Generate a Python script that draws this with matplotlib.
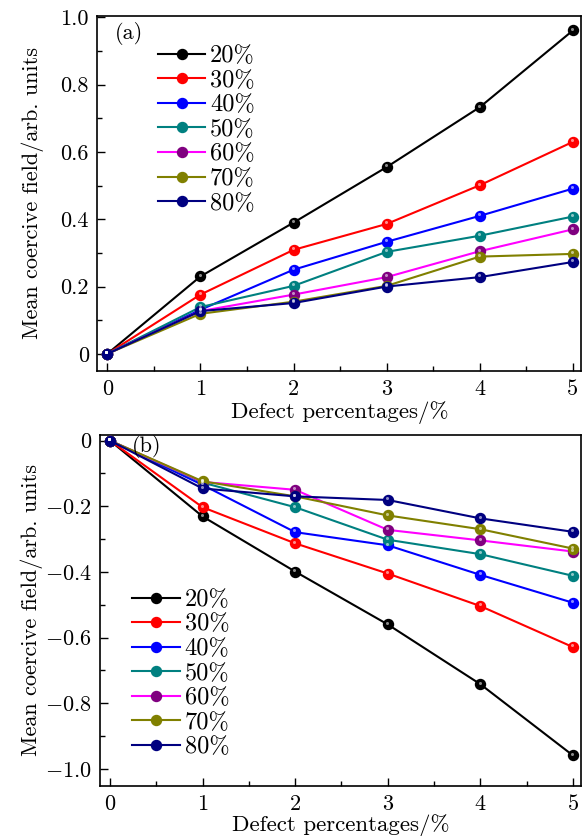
import matplotlib
matplotlib.use("Agg")
import matplotlib.pyplot as plt
from matplotlib.ticker import MultipleLocator
from matplotlib.transforms import ScaledTranslation

plt.rcParams["font.family"] = ["cmr10", "DejaVu Serif"]
plt.rcParams["mathtext.fontset"] = "cm"
plt.rcParams["axes.unicode_minus"] = False

defects = [0, 1, 2, 3, 4, 5]
labels = ["20%", "30%", "40%", "50%", "60%", "70%", "80%"]

pos_20 = [0, 0.230, 0.390, 0.555, 0.733, 0.961]
pos_30 = [0, 0.176, 0.309, 0.386, 0.501, 0.630]
pos_40 = [0, 0.131, 0.250, 0.333, 0.410, 0.491]
pos_50 = [0, 0.139, 0.202, 0.303, 0.351, 0.408]
pos_60 = [0, 0.127, 0.176, 0.228, 0.305, 0.370]
pos_70 = [0, 0.119, 0.155, 0.202, 0.289, 0.297]
pos_80 = [0, 0.127, 0.151, 0.200, 0.228, 0.273]

neg_20 = [0, -0.231, -0.399, -0.560, -0.742, -0.959]
neg_30 = [0, -0.203, -0.313, -0.405, -0.504, -0.629]
neg_40 = [0, -0.135, -0.279, -0.319, -0.409, -0.494]
neg_50 = [0, -0.128, -0.203, -0.302, -0.346, -0.412]
neg_60 = [0, -0.126, -0.150, -0.272, -0.304, -0.338]
neg_70 = [0, -0.124, -0.170, -0.228, -0.270, -0.329]
neg_80 = [0, -0.146, -0.170, -0.181, -0.237, -0.278]

pos_series = [pos_20, pos_30, pos_40, pos_50, pos_60, pos_70, pos_80]
neg_series = [neg_20, neg_30, neg_40, neg_50, neg_60, neg_70, neg_80]

line_colors = ["#000000", "#ff0000", "#0000ff", "#008080", "#ff00ff", "#808000", "#000080"]
marker_colors = ["#000000", "#ff0000", "#0000ff", "#008080", "#800080", "#808000", "#000080"]

pos_ticks = [0, 0.2, 0.4, 0.6, 0.8, 1.0]
pos_tick_labels = ["0", "0.2", "0.4", "0.6", "0.8", "1.0"]
neg_ticks = [0, -0.2, -0.4, -0.6, -0.8, -1.0]
neg_tick_labels = ["0", "$-$0.2", "$-$0.4", "$-$0.6", "$-$0.8", "$-$1.0"]

fig = plt.figure(figsize=(5.82, 8.36), dpi=100)
ax_a = fig.add_axes([0.1672, 0.5566, 0.8316, 0.4243])
ax_b = fig.add_axes([0.1718, 0.0602, 0.8270, 0.4199])


def draw_panel(ax, series, yticks, yticklabels, ylim, tag, tag_xy,
               legend_loc, legend_anchor, ylabel_x, xlabel_y):
    hl = ScaledTranslation(-0.6 / 72, 1.2 / 72, fig.dpi_scale_trans)
    handles = []
    for vals, lc, mc, lab in zip(series, line_colors, marker_colors, labels):
        h, = ax.plot(defects, vals, color=lc, lw=1.5, marker="o", ms=7.2,
                     mfc=mc, mec=mc, label=lab, zorder=3)
        ax.plot(defects, vals, ls="none", marker="o", ms=2.2, mfc="white",
                mec="none", alpha=0.55, transform=ax.transData + hl, zorder=4)
        handles.append(h)
    ax.set_xlim(-0.107, 5.09)
    ax.set_ylim(*ylim)
    ax.set_xticks(defects)
    ax.set_xticklabels([str(d) for d in defects])
    ax.set_yticks(yticks)
    ax.set_yticklabels(yticklabels)
    ax.xaxis.set_minor_locator(MultipleLocator(0.5))
    ax.yaxis.set_minor_locator(MultipleLocator(0.1))
    ax.tick_params(which="major", direction="in", length=6, width=1.0,
                   labelsize=16, top=False, right=False, pad=6)
    ax.tick_params(which="minor", direction="in", length=3.5, width=1.0,
                   top=False, right=False)
    for sp in ax.spines.values():
        sp.set_linewidth(1.2)
    ax.set_xlabel("Defect percentages/%", fontsize=16.5)
    ax.xaxis.set_label_coords(0.5, xlabel_y)
    ax.set_ylabel("Mean coercive field/arb. units", fontsize=16)
    ax.yaxis.set_label_coords(ylabel_x, 0.5)
    ax.text(tag_xy[0], tag_xy[1], tag, transform=ax.transAxes, fontsize=16,
            va="top", ha="left")
    ax.legend(handles=handles, loc=legend_loc, bbox_to_anchor=legend_anchor,
              frameon=False, fontsize=17.5, handlelength=1.95, handletextpad=0.2,
              labelspacing=0.1, borderaxespad=0.0)


draw_panel(ax_a, pos_series, pos_ticks, pos_tick_labels, (-0.05, 1.004),
           "(a)", (0.037, 0.984), "upper left", (0.105, 0.945), -0.11, -0.087)
draw_panel(ax_b, neg_series, neg_ticks, neg_tick_labels, (-1.051, 0.018),
           "(b)", (0.066, 0.999), "lower left", (0.047, 0.05), -0.118, -0.081)

fig.savefig("out.png", dpi=100)
